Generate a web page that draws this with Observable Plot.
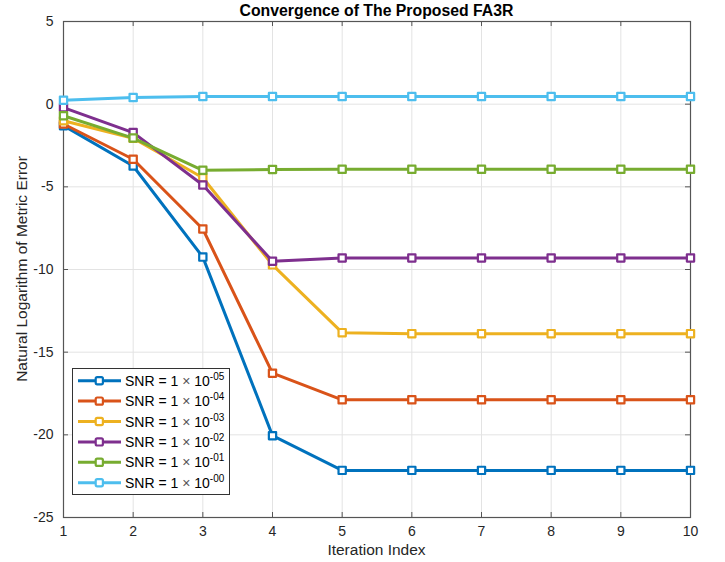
<!DOCTYPE html>
<html>
<head>
<meta charset="utf-8">
<script src="https://cdn.jsdelivr.net/npm/d3@7"></script>
<script src="https://cdn.jsdelivr.net/npm/@observablehq/plot@0.6"></script>
<style>
  html, body { margin: 0; padding: 0; background: #fff; }
  #chart { width: 725px; height: 562px; }
</style>
</head>
<body>
<div id="chart"></div>
<script>
const iterations = [1, 2, 3, 4, 5, 6, 7, 8, 9, 10];
const snrExponents = ["-05", "-04", "-03", "-02", "-01", "-00"];
const seriesColors = ["#0072BD", "#D95319", "#EDB120", "#7E2F8E", "#77AC30", "#4DBEEE"];

const errSnr1e5 = [-1.30, -3.74, -9.25, -20.05, -22.15, -22.15, -22.15, -22.15, -22.15, -22.15];
const errSnr1e4 = [-1.20, -3.33, -7.55, -16.27, -17.88, -17.88, -17.88, -17.88, -17.88, -17.88];
const errSnr1e3 = [-1.00, -2.06, -4.45, -9.72, -13.82, -13.88, -13.88, -13.88, -13.88, -13.88];
const errSnr1e2 = [-0.21, -1.72, -4.89, -9.50, -9.30, -9.30, -9.30, -9.30, -9.30, -9.30];
const errSnr1e1 = [-0.70, -2.05, -4.00, -3.95, -3.94, -3.94, -3.94, -3.94, -3.94, -3.94];
const errSnr1e0 = [0.24, 0.40, 0.46, 0.46, 0.46, 0.46, 0.46, 0.46, 0.46, 0.46];

const xTicks = [1, 2, 3, 4, 5, 6, 7, 8, 9, 10];
const yTicks = [-25, -20, -15, -10, -5, 0, 5];

const allSeries = [errSnr1e5, errSnr1e4, errSnr1e3, errSnr1e2, errSnr1e1, errSnr1e0];
const data = [];
allSeries.forEach((vals, si) => {
  vals.forEach((v, i) => data.push({series: si, iter: iterations[i], value: v}));
});

const W = 725, H = 562;
const mL = 63, mR = 35, mT = 21, mB = 45;
const innerW = W - mL - mR, innerH = H - mT - mB;
const axisColor = "#555";
const font = "'Liberation Sans', Helvetica, Arial, sans-serif";

const marks = [
  Plot.gridX(xTicks, {stroke: "#e3e3e3", strokeOpacity: 1, strokeWidth: 1}),
  Plot.gridY(yTicks, {stroke: "#e3e3e3", strokeOpacity: 1, strokeWidth: 1}),
  Plot.ruleX(xTicks, {x: d => d, insetTop: innerH - 5, stroke: axisColor}),
  Plot.ruleX(xTicks, {x: d => d, insetBottom: innerH - 5, stroke: axisColor}),
  Plot.ruleY(yTicks, {y: d => d, insetRight: innerW - 5, stroke: axisColor}),
  Plot.ruleY(yTicks, {y: d => d, insetLeft: innerW - 5, stroke: axisColor}),
  Plot.frame({stroke: axisColor, strokeWidth: 1.2}),
  Plot.axisX(xTicks, {tickSize: 0, tickPadding: 9, fontSize: 14, fill: "#262626", label: null}),
  Plot.axisY(yTicks, {tickSize: 0, tickPadding: 10, fontSize: 14, fill: "#262626", label: null, tickFormat: d => String(d)})
];
allSeries.forEach((vals, si) => {
  const rows = data.filter(d => d.series === si);
  marks.push(Plot.line(rows, {x: "iter", y: "value", stroke: seriesColors[si], strokeWidth: 3, strokeLinejoin: "round"}));
  marks.push(Plot.dot(rows, {x: "iter", y: "value", symbol: "square", r: 4.1, stroke: seriesColors[si], strokeWidth: 2.2, fill: "white", strokeLinejoin: "round"}));
});

const chart = Plot.plot({
  width: W, height: H,
  marginLeft: mL, marginRight: mR, marginTop: mT, marginBottom: mB,
  style: {fontFamily: font, background: "white", overflow: "visible"},
  x: {domain: [1, 10]},
  y: {domain: [-25, 5]},
  marks
});
document.getElementById("chart").appendChild(chart);

const svg = d3.select(chart);
svg.append("text")
  .attr("x", mL + innerW / 2).attr("y", 16)
  .attr("text-anchor", "middle")
  .attr("font-family", font).attr("font-weight", "bold").attr("font-size", 15.8)
  .attr("fill", "#000")
  .text("Convergence of The Proposed FA3R");
svg.append("text")
  .attr("x", mL + innerW / 2).attr("y", 555)
  .attr("text-anchor", "middle")
  .attr("font-family", font).attr("font-size", 15.5).attr("fill", "#262626")
  .text("Iteration Index");
svg.append("text")
  .attr("transform", `translate(27,${mT + innerH / 2}) rotate(-90)`)
  .attr("text-anchor", "middle")
  .attr("font-family", font).attr("font-size", 15.5).attr("fill", "#262626")
  .text("Natural Logarithm of Metric Error");

const lg = svg.append("g").attr("text-anchor", "start");
lg.append("rect").attr("x", 72.5).attr("y", 368.5).attr("width", 157).attr("height", 126)
  .attr("fill", "white").attr("stroke", "#333").attr("stroke-width", 1);
snrExponents.forEach((e, i) => {
  const cy = 380.7 + i * 20.4;
  lg.append("line").attr("x1", 78).attr("x2", 121).attr("y1", cy).attr("y2", cy)
    .attr("stroke", seriesColors[i]).attr("stroke-width", 3);
  lg.append("rect").attr("x", 95.7).attr("y", cy - 3.6).attr("width", 7.2).attr("height", 7.2)
    .attr("rx", 1.5).attr("fill", "white").attr("stroke", seriesColors[i]).attr("stroke-width", 2.2);
  const t = lg.append("text").attr("x", 125).attr("y", cy + 5)
    .attr("text-anchor", "start")
    .attr("font-family", font).attr("font-size", 14).attr("fill", "#000");
  t.append("tspan").text("SNR = 1 ");
  t.append("tspan").attr("fill", "#555").text("\u00D7");
  t.append("tspan").text(" 10");
  t.append("tspan").attr("font-size", 10).attr("dy", -6).text(e);
});
</script>
</body>
</html>
